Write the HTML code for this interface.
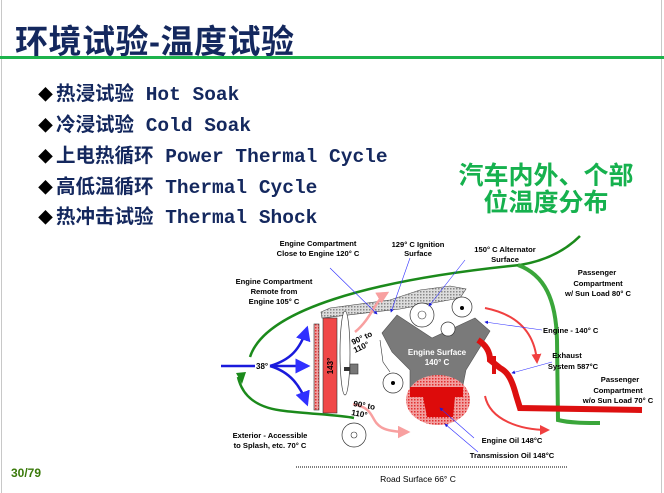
<!DOCTYPE html>
<html><head><meta charset="utf-8"><style>
html,body{margin:0;padding:0;background:#fff;}
body{width:664px;height:493px;position:relative;overflow:hidden;}
.t{position:absolute;white-space:nowrap;}
.d{color:#000;font-size:15px;margin-right:3px}
.b{position:absolute;left:38px;font:bold 19.5px 'Liberation Mono','Noto Sans CJK SC',monospace;color:#14285e;line-height:24px;height:24px;white-space:nowrap}
</style></head><body>
<div style="position:absolute;left:1px;top:0;width:1px;height:493px;background:#c8c8c8"></div>
<div style="position:absolute;left:661px;top:0;width:1px;height:493px;background:#c8c8c8"></div>
<div class="t" style="left:15px;top:15px;font:bold 33px 'Liberation Sans','Noto Sans CJK SC',sans-serif;color:#14285e;letter-spacing:0.5px">环境试验-温度试验</div>
<div style="position:absolute;left:0;top:56px;width:664px;height:3px;background:#1db34c"></div>
<div class="b" style="top:83px"><span class="d">◆</span>热浸试验 Hot Soak</div>
<div class="b" style="top:114px"><span class="d">◆</span>冷浸试验 Cold Soak</div>
<div class="b" style="top:145px"><span class="d">◆</span>上电热循环 Power Thermal Cycle</div>
<div class="b" style="top:176px"><span class="d">◆</span>高低温循环 Thermal Cycle</div>
<div class="b" style="top:206px"><span class="d">◆</span>热冲击试验 Thermal Shock</div>
<div class="t" style="left:455px;top:161px;font:bold 25px 'Noto Sans CJK SC',sans-serif;color:#16b14e;line-height:27px;text-align:center;width:182px">汽车内外、个部<br>位温度分布</div>
<div class="t" style="left:11px;top:466px;font:bold 12px 'Liberation Sans',sans-serif;color:#3a7a0a">30/79</div>
<svg width="664" height="493" style="position:absolute;left:0;top:0" font-family="Liberation Sans,sans-serif" font-weight="bold" font-size="7.6">
<defs>
<pattern id="h" width="3" height="3" patternUnits="userSpaceOnUse"><rect width="3" height="3" fill="#ddd"/><rect width="1.5" height="1.5" fill="#888"/></pattern>
<pattern id="p" width="3" height="3" patternUnits="userSpaceOnUse"><rect width="3" height="3" fill="#f2a0a0"/><rect width="1.5" height="1.5" fill="#e03030"/></pattern>
<marker id="ab" markerWidth="6" markerHeight="6" refX="5" refY="3" orient="auto"><path d="M0,0L6,3L0,6z" fill="#1a1adc"/></marker>
<marker id="ar" markerWidth="5" markerHeight="5" refX="4" refY="2.5" orient="auto"><path d="M0,0L5,2.5L0,5z" fill="#f04040"/></marker>
<marker id="ap" markerWidth="5" markerHeight="5" refX="4" refY="2.5" orient="auto"><path d="M0,0L5,2.5L0,5z" fill="#f8a0a0"/></marker>
<marker id="bl" markerWidth="6" markerHeight="6" refX="5" refY="3" orient="auto"><path d="M0,0L6,3L0,6z" fill="#3030ff"/></marker>
</defs>
<path d="M250,357 C265,310 370,280 520,265 C550,260 568,248 580,236" fill="none" stroke="#1b8a1b" stroke-width="2.5"/>
<path d="M518,265 C545,275 556,300 557,340 L558,420 C570,423 585,423 600,423" fill="none" stroke="#3aa63a" stroke-width="4"/>
<path d="M238,377 C242,395 255,408 285,411 C310,414 340,415 354,418" fill="none" stroke="#1b8a1b" stroke-width="2.5"/>
<path d="M236,373 L246,372 L242,384 Z" fill="#1b8a1b"/>
<line x1="221" y1="366" x2="255" y2="366" stroke="#1a1adc" stroke-width="2.5"/>
<text x="256" y="369" font-size="8">38°</text>
<path d="M270,366 C290,360 300,350 307,328" fill="none" stroke="#1a1adc" stroke-width="2.5" marker-end="url(#bl)"/>
<path d="M270,366 L308,366" fill="none" stroke="#1a1adc" stroke-width="2.5" marker-end="url(#bl)"/>
<path d="M270,366 C290,372 300,385 307,404" fill="none" stroke="#1a1adc" stroke-width="2.5" marker-end="url(#bl)"/>
<rect x="314" y="324" width="5" height="86" fill="url(#p)" stroke="#333" stroke-width="0.6"/>
<rect x="323" y="318" width="14" height="95" fill="#f04848" stroke="#333" stroke-width="0.6"/>
<text transform="translate(333,366) rotate(-90)" text-anchor="middle" font-size="8" fill="#000">143°</text>
<path d="M321,312 L322,318 L400,309 L460,298 L466,289 L450,286 L420,290 L390,300 L330,308 Z" fill="url(#h)" stroke="#444" stroke-width="0.6"/>
<ellipse cx="345" cy="353" rx="5" ry="42" fill="#fff" stroke="#444" stroke-width="0.7"/>
<rect x="344" y="367" width="6" height="4" fill="#333"/>
<rect x="350" y="364" width="8" height="10" fill="#777" stroke="#333" stroke-width="0.6"/>
<path d="M382,333 L397,315 L432,338 L475,318 L490,331 L466,370 L462,390 L410,390 L410,370 L392,352 Z" fill="#7a7a7a" stroke="#555" stroke-width="0.6"/>
<circle cx="422" cy="315" r="12" fill="#fff" stroke="#333" stroke-width="0.7"/>
<circle cx="422" cy="315" r="4" fill="none" stroke="#333" stroke-width="0.6"/>
<circle cx="462" cy="307" r="10" fill="#fff" stroke="#333" stroke-width="0.7"/>
<circle cx="462" cy="308" r="2" fill="#000"/>
<circle cx="448" cy="329" r="7" fill="#fff" stroke="#333" stroke-width="0.7"/>
<circle cx="393" cy="383" r="10" fill="#fff" stroke="#333" stroke-width="0.7"/>
<circle cx="393" cy="383" r="2" fill="#000"/>
<path d="M380,340 L383,362 L390,372" fill="none" stroke="#333" stroke-width="0.6"/>
<text x="437" y="355" text-anchor="middle" font-size="8" fill="#fff">Engine Surface</text>
<text x="437" y="365" text-anchor="middle" font-size="8" fill="#fff">140° C</text>
<ellipse cx="438" cy="400" rx="32" ry="25" fill="url(#p)"/>
<path d="M410,387 L463,387 L463,397 L455,397 L453,417 L427,417 L423,397 L410,397 Z" fill="#dd0b0b"/>
<circle cx="354" cy="435" r="12" fill="#fff" stroke="#333" stroke-width="0.7"/>
<circle cx="354" cy="435" r="3" fill="none" stroke="#333" stroke-width="0.6"/>
<path d="M478,340 C486,345 490,352 490,360 L500,368 C508,372 512,380 516,395 L520,408 L642,410" fill="none" stroke="#dd1010" stroke-width="6"/>
<rect x="492" y="356" width="4" height="18" fill="#dd1010"/>
<path d="M355,332 C372,318 375,300 387,293" fill="none" stroke="#f8a0a0" stroke-width="2.5" marker-end="url(#ap)"/>
<path d="M485,308 C520,315 535,335 537,362" fill="none" stroke="#f04040" stroke-width="2" marker-end="url(#ar)"/>
<path d="M485,396 C490,420 520,430 548,430" fill="none" stroke="#f04040" stroke-width="2" marker-end="url(#ar)"/>
<path d="M353,404 C385,410 360,432 408,432" fill="none" stroke="#f8a0a0" stroke-width="2.5" marker-end="url(#ap)"/>
<text transform="translate(353,345) rotate(-25)" font-size="8">90° to</text>
<text transform="translate(355,353) rotate(-25)" font-size="8">110°</text>
<text transform="translate(353,406) rotate(10)" font-size="8">90° to</text>
<text transform="translate(351,415) rotate(10)" font-size="8">110°</text>
<g stroke="#3030ff" stroke-width="0.6" fill="none">
<line x1="330" y1="268" x2="377" y2="314" marker-end="url(#ab)"/>
<line x1="410" y1="258" x2="391" y2="312" marker-end="url(#ab)"/>
<line x1="465" y1="260" x2="429" y2="306" marker-end="url(#ab)"/>
<line x1="542" y1="330" x2="485" y2="322" marker-end="url(#ab)"/>
<line x1="552" y1="362" x2="512" y2="373" marker-end="url(#ab)"/>
<line x1="474" y1="438" x2="440" y2="408" marker-end="url(#ab)"/>
<line x1="478" y1="452" x2="445" y2="424" marker-end="url(#ab)"/>
</g>
<g text-anchor="middle" fill="#000">
<text x="318" y="246">Engine Compartment</text><text x="318" y="256">Close to Engine 120° C</text>
<text x="418" y="247">129° C Ignition</text><text x="418" y="256">Surface</text>
<text x="505" y="252">150° C Alternator</text><text x="505" y="262">Surface</text>
<text x="274" y="284">Engine Compartment</text><text x="274" y="294">Remote from</text><text x="274" y="304">Engine 105° C</text>
<text x="597" y="275">Passenger</text><text x="598" y="286">Compartment</text><text x="598" y="296">w/ Sun Load 80° C</text>
<text x="567" y="358">Exhaust</text><text x="573" y="369">System 587°C</text>
<text x="620" y="382">Passenger</text><text x="618" y="393">Compartment</text><text x="618" y="403">w/o Sun Load 70° C</text>
<text x="270" y="438">Exterior - Accessible</text><text x="270" y="448">to Splash, etc. 70° C</text>
<text x="512" y="443">Engine Oil 148°C</text>
<text x="512" y="458">Transmission Oil 148°C</text>
<text x="418" y="482" font-size="8.5" font-weight="normal">Road Surface 66° C</text>
</g>
<text x="543" y="333">Engine -  140° C</text>
<line x1="296" y1="467" x2="567" y2="467" stroke="#555" stroke-width="1.5" stroke-dasharray="1,1"/>
</svg>
</body></html>
